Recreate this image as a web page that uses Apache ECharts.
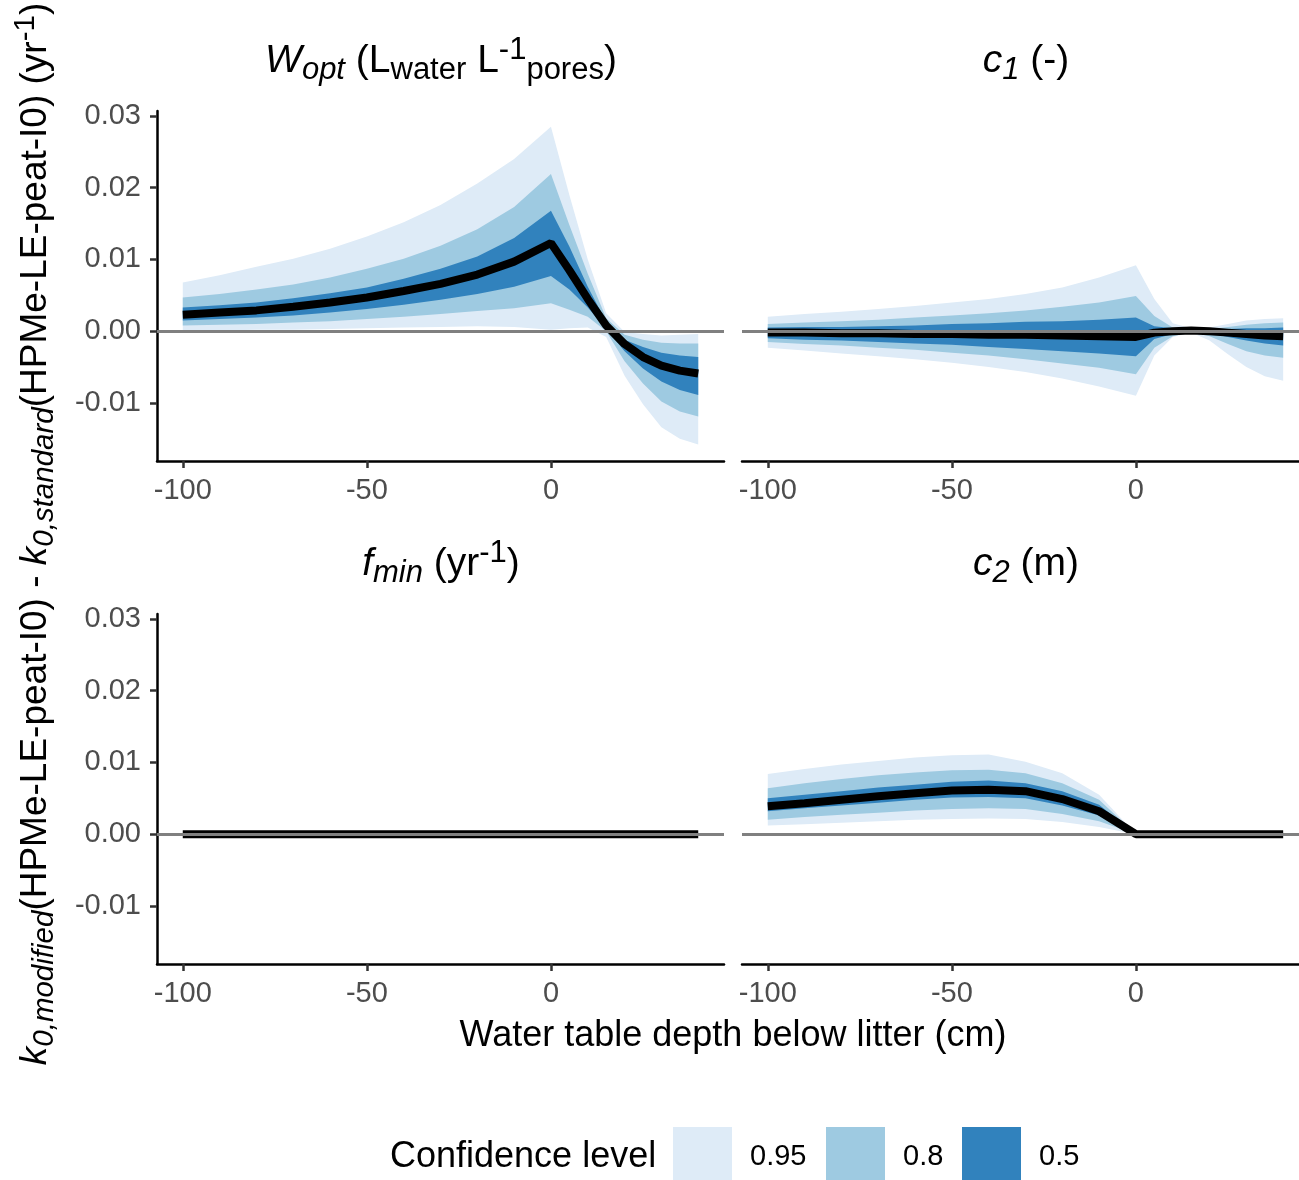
<!DOCTYPE html>
<html>
<head>
<meta charset="utf-8">
<script src="https://cdn.jsdelivr.net/npm/echarts@6/dist/echarts.min.js"></script>
<style>
  html, body { margin: 0; padding: 0; background: #fff; }
  #main { width: 1299px; height: 1180px; }
</style>
</head>
<body>
<div id="main"></div>
<script>
// water table depth (cm)
var depth = [-100, -90, -80, -70, -60, -50, -40, -30, -20, -10, 0, 5, 10, 15, 20, 25, 30, 35, 40];

// W_opt panel
var woptMed  = [.0023, .0026, .0029, .0034, .0040, .0047, .0056, .0066, .0079, .0097, .0123, .0085, .0045, .0008, -.0018, -.0036, -.0048, -.0055, -.0059];
var woptLo50 = [.0015, .0017, .0019, .0022, .0026, .0031, .0037, .0044, .0052, .0062, .0077, .0058, .0033, .0003, -.0028, -.0052, -.0070, -.0082, -.0089];
var woptHi50 = [.0033, .0036, .0040, .0046, .0053, .0061, .0073, .0087, .0104, .0130, .0168, .0118, .0062, .0013, -.0012, -.0022, -.0030, -.0034, -.0036];
var woptLo80 = [.0008, .0009, .0010, .0012, .0014, .0017, .0020, .0024, .0028, .0032, .0039, .0030, .0020, .0000, -.0042, -.0073, -.0098, -.0112, -.0119];
var woptHi80 = [.0047, .0052, .0058, .0065, .0075, .0087, .0101, .0119, .0142, .0173, .0219, .0148, .0080, .0018, -.0005, -.0012, -.0016, -.0017, -.0017];
var woptLo95 = [.0001, .0001, .0002, .0002, .0003, .0004, .0005, .0006, .0007, .0006, .0002, .0004, .0005, -.0008, -.0062, -.0102, -.0134, -.0150, -.0158];
var woptHi95 = [.0068, .0078, .0090, .0101, .0115, .0132, .0152, .0176, .0206, .0240, .0285, .0190, .0100, .0025, -.0001, -.0004, -.0006, -.0005, -.0004];

// c1 panel
var c1Med  = [-.0002, -.0002, -.0003, -.0003, -.0004, -.0004, -.0005, -.0005, -.0006, -.0007, -.0008, -.0002, .0000, .0001, .0000, -.0002, -.0004, -.0006, -.0007];
var c1Lo50 = [-.0010, -.0012, -.0013, -.0015, -.0017, -.0019, -.0022, -.0025, -.0028, -.0031, -.0035, -.0011, -.0004, .0000, -.0003, -.0008, -.0013, -.0017, -.0020];
var c1Hi50 = [.0005, .0006, .0006, .0007, .0008, .0010, .0011, .0013, .0014, .0016, .0019, .0007, .0004, .0002, .0002, .0003, .0004, .0004, .0005];
var c1Lo80 = [-.0015, -.0018, -.0020, -.0023, -.0026, -.0030, -.0034, -.0039, -.0045, -.0051, -.0060, -.0023, -.0007, -.0001, -.0007, -.0018, -.0028, -.0034, -.0037];
var c1Hi80 = [.0010, .0012, .0014, .0016, .0019, .0022, .0025, .0029, .0034, .0040, .0049, .0021, .0005, .0003, .0003, .0006, .0009, .0011, .0012];
var c1Lo95 = [-.0023, -.0027, -.0031, -.0035, -.0039, -.0044, -.0050, -.0057, -.0066, -.0077, -.0090, -.0034, -.0008, -.0002, -.0013, -.0032, -.0050, -.0063, -.0069];
var c1Hi95 = [.0020, .0024, .0027, .0031, .0035, .0040, .0045, .0052, .0061, .0075, .0092, .0045, .0011, .0004, .0005, .0010, .0015, .0017, .0018];

// f_min panel (no effect)
var fminMed = [0, 0, 0, 0, 0, 0, 0, 0, 0, 0, 0, 0, 0, 0, 0, 0, 0, 0, 0];
var fminLo  = [0, 0, 0, 0, 0, 0, 0, 0, 0, 0, 0, 0, 0, 0, 0, 0, 0, 0, 0];
var fminHi  = [0, 0, 0, 0, 0, 0, 0, 0, 0, 0, 0, 0, 0, 0, 0, 0, 0, 0, 0];

// c2 panel
var c2Med  = [.0039, .0043, .0048, .0053, .0057, .0061, .0062, .0060, .0049, .0032, 0, 0, 0, 0, 0, 0, 0, 0, 0];
var c2Lo50 = [.0032, .0036, .0040, .0044, .0048, .0051, .0052, .0050, .0040, .0026, 0, 0, 0, 0, 0, 0, 0, 0, 0];
var c2Hi50 = [.0050, .0055, .0060, .0065, .0069, .0073, .0075, .0071, .0060, .0041, 0, 0, 0, 0, 0, 0, 0, 0, 0];
var c2Lo80 = [.0020, .0024, .0027, .0030, .0033, .0035, .0036, .0035, .0028, .0018, 0, 0, 0, 0, 0, 0, 0, 0, 0];
var c2Hi80 = [.0064, .0071, .0077, .0082, .0086, .0089, .0090, .0085, .0071, .0048, 0, 0, 0, 0, 0, 0, 0, 0, 0];
var c2Lo95 = [.0012, .0014, .0016, .0018, .0020, .0021, .0022, .0021, .0017, .0010, 0, 0, 0, 0, 0, 0, 0, 0, 0];
var c2Hi95 = [.0084, .0091, .0097, .0102, .0107, .0110, .0111, .0101, .0085, .0055, 0, 0, 0, 0, 0, 0, 0, 0, 0];

var xTicks = [-100, -50, 0];
var yTicks = [-0.01, 0, 0.01, 0.02, 0.03];
var levels = ['0.95', '0.8', '0.5'];
var levelColors = ['#DEEBF7', '#9ECAE1', '#3182BD'];

var panels = [
  { med: woptMed, bands: [[woptLo95, woptHi95], [woptLo80, woptHi80], [woptLo50, woptHi50]] },
  { med: c1Med, bands: [[c1Lo95, c1Hi95], [c1Lo80, c1Hi80], [c1Lo50, c1Hi50]] },
  { med: fminMed, bands: [[fminLo, fminHi], [fminLo, fminHi], [fminLo, fminHi]] },
  { med: c2Med, bands: [[c2Lo95, c2Hi95], [c2Lo80, c2Hi80], [c2Lo50, c2Hi50]] }
];

var FONT = '"Liberation Sans", Arial, Helvetica, sans-serif';

// panel rectangles (facet_wrap 2x2); the right column is cut by the canvas edge,
// so it stops at 1299 px and its x range stops a bit short of the left column's
var grids = [
  { left: 157, top: 111, width: 567, height: 350 },
  { left: 742, top: 111, width: 557, height: 350 },
  { left: 157, top: 614, width: 567, height: 350 },
  { left: 742, top: 614, width: 557, height: 350 }
];
var xMax = [47, 44.3, 47, 44.3];

var xAxes = [], yAxes = [], series = [];

grids.forEach(function (g, i) {
  xAxes.push({
    type: 'value', gridIndex: i, min: -107, max: xMax[i],
    splitLine: { show: false },
    axisLine: { onZero: false, lineStyle: { color: '#000', width: 2.5 } },
    axisTick: { customValues: xTicks, length: 7, lineStyle: { color: '#333', width: 2.5 } },
    axisLabel: { customValues: xTicks, color: '#4D4D4D', fontSize: 29, fontFamily: FONT, margin: 15 }
  });
  var left = (i % 2 === 0);
  yAxes.push({
    type: 'value', gridIndex: i, min: -0.0181, max: 0.0307,
    splitLine: { show: false },
    axisLine: { show: left, onZero: false, lineStyle: { color: '#000', width: 2.5 } },
    axisTick: { show: left, customValues: yTicks, length: 7, lineStyle: { color: '#333', width: 2.5 } },
    axisLabel: {
      show: left, customValues: yTicks, color: '#4D4D4D', fontSize: 29, fontFamily: FONT, margin: 16,
      formatter: function (v) { return v.toFixed(2); }
    }
  });
});

// ribbon: one polygon (upper edge forward, lower edge back) through the axis scales
function ribbon(i, lo, hi, color) {
  var data = depth.map(function (d, k) { return [d, lo[k], hi[k]]; });
  return {
    type: 'custom', xAxisIndex: i, yAxisIndex: i, silent: true,
    data: data,
    encode: { x: 0, y: [1, 2] },
    renderItem: function (params, api) {
      if (params.dataIndex !== 0) return;
      var pts = [];
      data.forEach(function (r) { pts.push(api.coord([r[0], r[2]])); });
      for (var k = data.length - 1; k >= 0; k--) pts.push(api.coord([data[k][0], data[k][1]]));
      return {
        type: 'polygon',
        shape: { points: pts },
        style: { fill: color, stroke: null }
      };
    }
  };
}

panels.forEach(function (p, i) {
  p.bands.forEach(function (b, j) {
    series.push(ribbon(i, b[0], b[1], levelColors[j]));
  });
  series.push({
    type: 'line', xAxisIndex: i, yAxisIndex: i, z: 3,
    data: depth.map(function (d, k) { return [d, p.med[k]]; }),
    symbol: 'none', silent: true,
    lineStyle: { color: '#000', width: 8 },
    markLine: {
      silent: true, symbol: ['none', 'none'], label: { show: false },
      lineStyle: { color: '#808080', width: 3, type: 'solid' },
      data: [{ yAxis: 0 }]
    }
  });
});

// rich text styles for the math-like labels
function richSet(big, small, padSub, padSup) {
  return {
    n: { fontSize: big, fontFamily: FONT, lineHeight: 60, color: '#000' },
    i: { fontSize: big, fontFamily: FONT, fontStyle: 'italic', lineHeight: 60, color: '#000' },
    sub: { fontSize: small, fontFamily: FONT, lineHeight: small, padding: [padSub, 0, 0, 0], color: '#000' },
    isub: { fontSize: small, fontFamily: FONT, fontStyle: 'italic', lineHeight: small, padding: [padSub, 0, 0, 0], color: '#000' },
    sup: { fontSize: small, fontFamily: FONT, lineHeight: small, padding: [0, 0, padSup, 0], color: '#000' }
  };
}
var titleRich = richSet(39, 31, 19, 22);
var axisRich = richSet(37, 29.5, 18, 21);
var xTitleRich = richSet(36, 29, 18, 21);

function label(x, y, text, rich, rot) {
  return {
    type: 'text', x: x, y: y, rotation: rot || 0,
    style: { text: text, rich: rich, align: 'center', verticalAlign: 'middle', fontFamily: FONT }
  };
}

var graphics = [
  label(441, 61, '{i|W}{isub|opt}{n| (L}{sub|water}{n| L}{sup|-1}{sub|pores}{n|)}', titleRich),
  label(1026, 61, '{i|c}{isub|1}{n| (-)}', titleRich),
  label(441, 564, '{i|f}{isub|min}{n| (yr}{sup|-1}{n|)}', titleRich),
  label(1026, 564, '{i|c}{isub|2}{n| (m)}', titleRich),
  label(733, 1036, '{n|Water table depth below litter (cm)}', xTitleRich),
  label(36, 534, '{i|k}{isub|0,modified}{n|(HPMe-LE-peat-I0) - }{i|k}{isub|0,standard}{n|(HPMe-LE-peat-I0) (yr}{sup|-1}{n|)}', axisRich, Math.PI / 2),
  {
    type: 'text', x: 390, y: 1157,
    style: { text: 'Confidence level', fontSize: 36, fontFamily: FONT, fill: '#000', verticalAlign: 'middle' }
  }
];

var keyX = [673, 826, 962];
var labX = [750, 903, 1039];
levels.forEach(function (lv, j) {
  graphics.push({ type: 'rect', shape: { x: keyX[j], y: 1127, width: 59, height: 59 }, style: { fill: levelColors[j] } });
  graphics.push({
    type: 'text', x: labX[j], y: 1157,
    style: { text: lv, fontSize: 29, fontFamily: FONT, fill: '#000', verticalAlign: 'middle' }
  });
});

var myChart = echarts.init(document.getElementById('main'));
myChart.setOption({
  animation: false,
  backgroundColor: '#fff',
  grid: grids,
  xAxis: xAxes,
  yAxis: yAxes,
  series: series,
  graphic: graphics
});
</script>
</body>
</html>
